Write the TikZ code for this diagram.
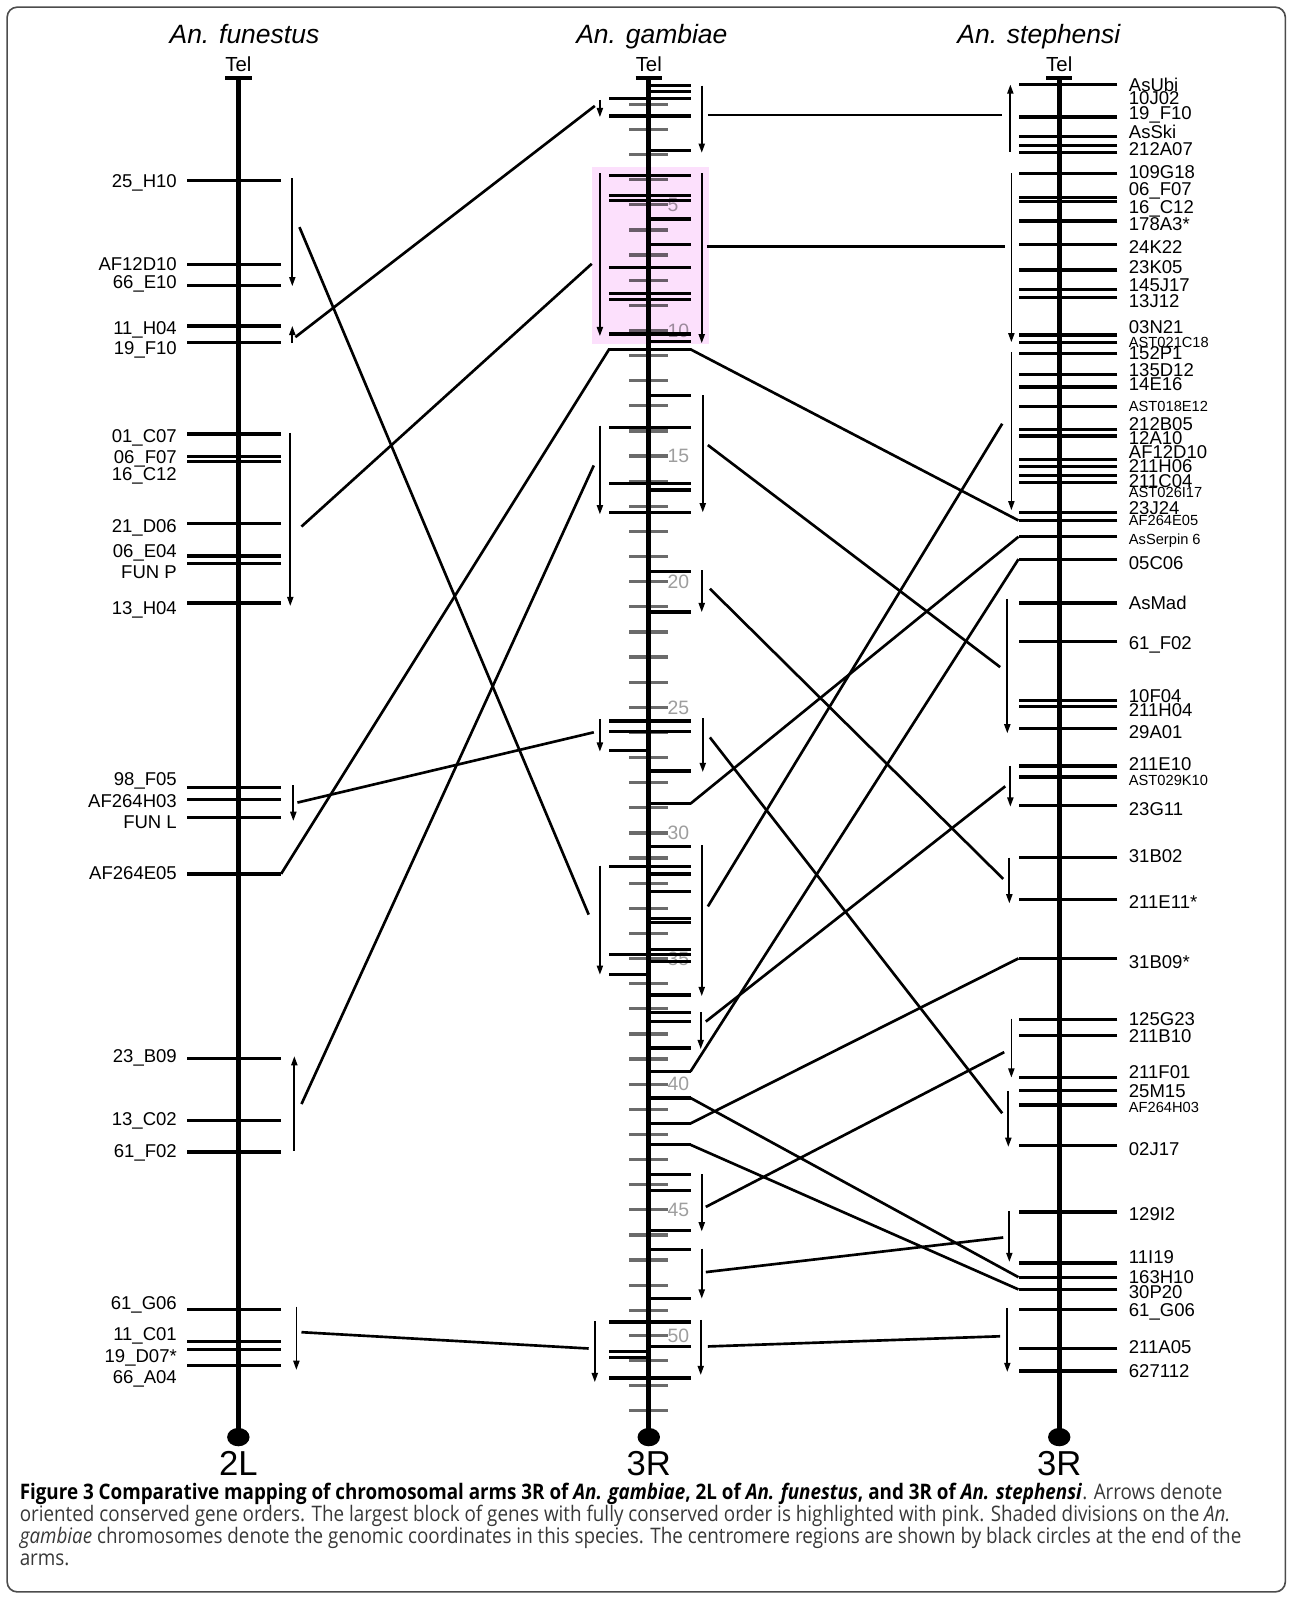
\documentclass[tikz,border=0pt]{standalone}
\usepackage{fontspec}
\setmainfont{Liberation Sans}
\newfontfamily\capfont[FakeStretch=0.88]{Open Sans}
\usetikzlibrary{arrows.meta}
\definecolor{blockpink}{RGB}{252,224,252}

\begin{document}
\begin{tikzpicture}[x=0.5pt,y=-0.5pt,>={Triangle[length=4.5pt,width=3pt]},
  every node/.style={inner sep=0pt,text depth=0pt},
  chrom/.style={line width=2.5pt},
  telbar/.style={line width=2pt},
  gene/.style={line width=1.6pt},
  scaletick/.style={line width=1.6pt,black!58},
  order/.style={->,line width=0.85pt},
  link/.style={line width=1.3pt},
  genelbl/.style={font=\fontsize{9.1}{10}\selectfont},
  smalllbl/.style={font=\fontsize{7.2}{8}\selectfont},
  species/.style={font=\fontsize{13}{15}\selectfont\itshape},
  tel/.style={font=\fontsize{10}{12}\selectfont},
  arm/.style={font=\fontsize{17}{19}\selectfont},
  scalenum/.style={font=\fontsize{9.5}{11}\selectfont,black!38,anchor=west},
  caption/.style={font=\capfont\fontsize{10.5}{12}\selectfont,black!78,anchor=base west}]
  \fill[white] (0,0) rectangle (1267,1568);
  \useasboundingbox (0,0) rectangle (1267,1568);
  \draw[black!70,line width=0.8pt,rounded corners=5pt] (7,7) rectangle (1262,1563);

  % species and telomeres
  \node[species] (tfun) at (240,33) {An. funestus};
  \node[species] (tgam) at (640,33) {An. gambiae};
  \node[species] (tste) at (1020,33) {An. stephensi};
  \foreach \x/\n in {234/f,637/g,1040/s} {
    \node[tel] (tel\n) at (\x,63) {Tel};
    \draw[telbar] (\x-13,77) -- (\x+13,77);
  }

  % genomic scale of An. gambiae
  \foreach \k in {1,...,53}
    \draw[scaletick] (618,{77.7+24.67*\k}) -- (656,{77.7+24.67*\k});
  \foreach \k in {5,10,...,50}
    \node[scalenum] (mb\k) at (655,{77.7+24.67*\k}) {\k};

  % the three arms
  \foreach \x/\n/\t in {234/f/2L,637/g/3R,1040/s/3R} {
    \draw[chrom] (\x,78) -- (\x,1411);
    \fill (\x,1411) ellipse [x radius=11,y radius=9];
    \node[arm] (arm\n) at (\x,1437) {\t};
  }

  % An. funestus 2L
  \foreach \y in {177,260,280,320,336,426,448,453,514,546,553,592,773,785,803,858,
      1039,1100,1131,1286,1317,1325,1341}
    \draw[gene] (184,\y) -- (276,\y) coordinate (f\y);
  \foreach \y/\t [count=\i] in {178/25\_H10,259/AF12D10,277/66\_E10,322/11\_H04,
      342/19\_F10,428/01\_C07,449/06\_F07,465/16\_C12,516/21\_D06,541/06\_E04,
      562/FUN P,597/13\_H04,765/98\_F05,786/AF264H03,807/FUN L,857/AF264E05,
      1037/23\_B09,1099/13\_C02,1130/61\_F02,1279/61\_G06,1310/11\_C01,
      1331/19\_D07*,1352/66\_A04}
    \node[genelbl,anchor=east] (fl\i) at (174,\y) {\t};

  % An. gambiae 3R
  \foreach \y in {97,114,172,192,197,263,288,294,328,343,420,475,503,708,718,851,
      937,1298,1353}
    \draw[gene] (598,\y) coordinate (gw\y) -- (678,\y) coordinate (ge\y);
  \foreach \y in {84,90,148,215,240,335,388,481,561,601,757,789,831,858,875,902,
      906,932,944,977,994,1003,1029,1052,1078,1103,1124,1153,1169,1208,1227,1275,1322}
    \draw[gene] (637,\y) -- (678,\y) coordinate (ge\y);
  \foreach \y in {737,957,1327,1333}
    \draw[gene] (598,\y) coordinate (gw\y) -- (637,\y);

  % An. stephensi 3R
  \foreach \y in {83,115,134,143,150,170,194,198,217,240,265,284,292,329,336,347,
      368,380,399,422,428,451,458,467,474,503,511,527,549,592,630,688,694,715,752,
      763,791,842,883,941,1001,1017,1058,1071,1085,1125,1190,1240,1254,1266,1286,
      1324,1346}
    \draw[gene] (1097,\y) -- (1000,\y) coordinate (s\y);
  \foreach \y/\t [count=\i] in {83/AsUbi,96/10J02,111/19\_F10,129/AsSki,146/212A07,
      169/109G18,186/06\_F07,203/16\_C12,220/178A3*,243/24K22,262/23K05,280/145J17,
      296/13J12,321/03N21,347/152P1,363/135D12,377/14E16,416/212B05,430/12A10,
      444/AF12D10,458/211H06,472/211C04,499/23J24,553/05C06,592/AsMad,631/61\_F02,
      683/10F04,697/211H04,719/29A01,750/211E10,794/23G11,840/31B02,886/211E11*,
      945/31B09*,1001/125G23,1017/211B10,1053/211F01,1071/25M15,1128/02J17,
      1192/129I2,1234/11I19,1254/163H10,1269/30P20,1286/61\_G06,1323/211A05,
      1346/627112}
    \node[genelbl,anchor=west] (sl\i) at (1108,\y) {\t};
  \foreach \y/\t [count=\i] in {336/AST021C18,399/AST018E12,483/AST026I17,
      511/AF264E05,529/AsSerpin 6,766/AST029K10,1087/AF264H03}
    \node[smalllbl,anchor=west] (ss\i) at (1108,\y) {\t};

  % oriented conserved orders
  \foreach \x/\a/\b in {287/175/281,287/337/320,285/425/595,288/771/806,
      289/1130/1037,291/1283/1345,
      589/98/115,589/170/330,589/418/505,589/706/738,589/850/957,584/1297/1357,
      689/84/150,689/170/337,690/388/503,689/560/601,690/705/758,689/830/978,
      688/994/1030,689/1153/1209,689/1226/1275,688/1296/1350,
      992/149/83,993/170/336,993/346/501,989/588/720,992/752/792,991/842/887,
      993/1000/1058,990/1071/1126,991/1189/1239,989/1284/1347}
    \draw[order] (\x,\a) -- (\x,\b);

  % funestus -- gambiae
  \foreach \a/\b/\c/\d [count=\i] in {294/223/578/898,290/331/584/104,
      296/517/581/259,292/788/583/719,296/1084/583/457,296/1308/578/1324} {
    \coordinate (fo\i) at (\a,\b);
    \coordinate (gl\i) at (\c,\d);
    \draw[link] (fo\i) -- (gl\i);
  }
  \draw[link] (f858) -- (gw343) -- (ge343) -- (s511);

  % gambiae -- stephensi
  \foreach \a/\b/\c/\d [count=\i] in {695/113/984/113,694/242/987/242,
      695/437/982/655,697/578/985/863,697/724/984/1093,695/890/984/416,
      693/1003/987/772,693/1185/986/1033,693/1249/985/1215,695/1322/982/1312} {
    \coordinate (gr\i) at (\a,\b);
    \coordinate (so\i) at (\c,\d);
    \draw[link] (gr\i) -- (so\i);
  }
  \draw[link] (ge789) -- (s527);
  \draw[link] (ge1052) -- (s549);
  \draw[link] (ge1078) -- (s1254);
  \draw[link] (ge1103) -- (s941);
  \draw[link] (ge1124) -- (s1266);

  % largest fully conserved block
  \fill[blockpink,blend mode=multiply] (581,164) rectangle (696,338);

  % caption
  \node[caption] (cap1) at (19,1472) {\textcolor{black}{\textbf{Figure 3 Comparative
    mapping of chromosomal arms 3R of \textit{An. gambiae}, 2L of \textit{An. funestus},
    and 3R of \textit{An. stephensi}}}. Arrows denote};
  \node[caption] (cap2) at (19,1494) {oriented conserved gene orders. The largest block
    of genes with fully conserved order is highlighted with pink. Shaded divisions on
    the \textit{An.}};
  \node[caption] (cap3) at (19,1515) {\textit{gambiae} chromosomes denote the genomic
    coordinates in this species. The centromere regions are shown by black circles at
    the end of the};
  \node[caption] (cap4) at (19,1537) {arms.};
\end{tikzpicture}
\end{document}
